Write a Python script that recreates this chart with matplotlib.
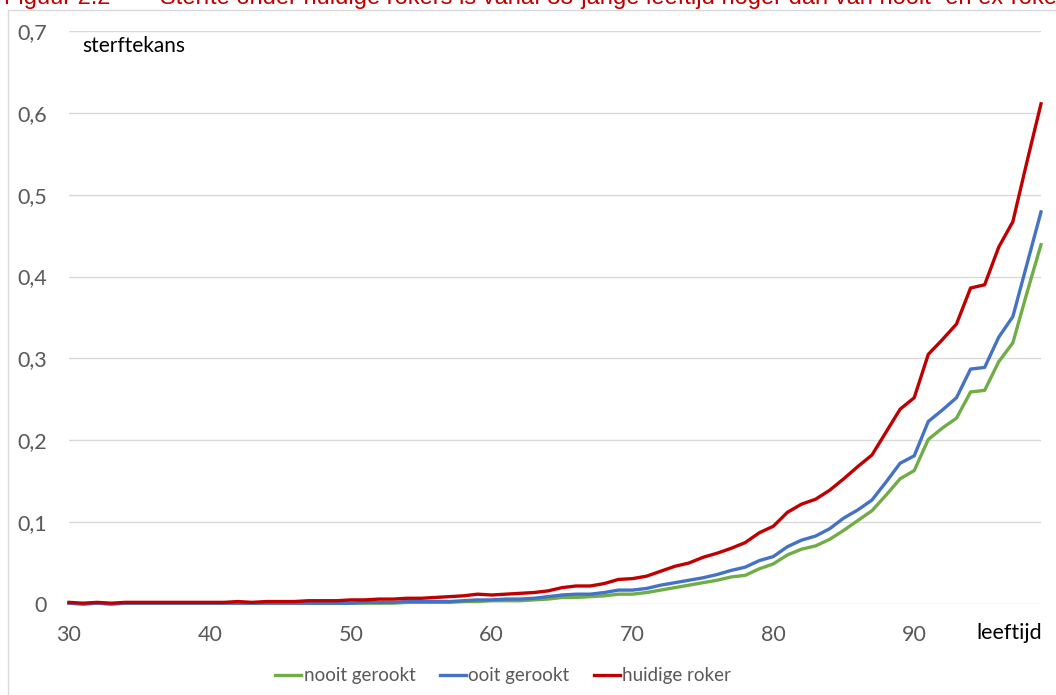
import matplotlib
matplotlib.use("Agg")
import matplotlib.pyplot as plt
from matplotlib.patches import Rectangle

ages = list(range(30, 100))

nooit_gerookt = [
    0.001, 0.000, 0.001, 0.000, 0.001, 0.001, 0.001, 0.001, 0.001, 0.001,  # 30-39
    0.001, 0.001, 0.001, 0.001, 0.001, 0.001, 0.001, 0.001, 0.001, 0.001,  # 40-49
    0.001, 0.001, 0.001, 0.001, 0.002, 0.002, 0.002, 0.002, 0.003, 0.003,  # 50-59
    0.004, 0.004, 0.004, 0.005, 0.006, 0.008, 0.008, 0.009, 0.010, 0.012,  # 60-69
    0.012, 0.014, 0.017, 0.020, 0.023, 0.026, 0.029, 0.033, 0.035, 0.043,  # 70-79
    0.049, 0.060, 0.067, 0.071, 0.079, 0.090, 0.102, 0.114, 0.133, 0.153,  # 80-89
    0.163, 0.201, 0.215, 0.227, 0.259, 0.261, 0.296, 0.319, 0.380, 0.439,  # 90-99
]

ooit_gerookt = [
    0.001, 0.000, 0.001, 0.000, 0.001, 0.001, 0.001, 0.001, 0.001, 0.001,  # 30-39
    0.001, 0.001, 0.001, 0.001, 0.001, 0.001, 0.001, 0.001, 0.001, 0.001,  # 40-49
    0.001, 0.002, 0.002, 0.002, 0.003, 0.003, 0.003, 0.003, 0.004, 0.005,  # 50-59
    0.005, 0.006, 0.006, 0.007, 0.009, 0.011, 0.012, 0.012, 0.014, 0.017,  # 60-69
    0.017, 0.019, 0.023, 0.026, 0.029, 0.032, 0.036, 0.041, 0.045, 0.053,  # 70-79
    0.058, 0.070, 0.078, 0.083, 0.092, 0.105, 0.115, 0.127, 0.149, 0.172,  # 80-89
    0.181, 0.223, 0.237, 0.252, 0.287, 0.289, 0.326, 0.351, 0.415, 0.479,  # 90-99
]

huidige_roker = [
    0.002, 0.001, 0.002, 0.001, 0.002, 0.002, 0.002, 0.002, 0.002, 0.002,  # 30-39
    0.002, 0.002, 0.003, 0.002, 0.003, 0.003, 0.003, 0.004, 0.004, 0.004,  # 40-49
    0.005, 0.005, 0.006, 0.006, 0.007, 0.007, 0.008, 0.009, 0.010, 0.012,  # 50-59
    0.011, 0.012, 0.013, 0.014, 0.016, 0.020, 0.022, 0.022, 0.025, 0.030,  # 60-69
    0.031, 0.034, 0.040, 0.046, 0.050, 0.057, 0.062, 0.068, 0.075, 0.087,  # 70-79
    0.095, 0.112, 0.122, 0.128, 0.139, 0.153, 0.168, 0.182, 0.210, 0.238,  # 80-89
    0.252, 0.305, 0.323, 0.342, 0.386, 0.390, 0.436, 0.467, 0.540, 0.611,  # 90-99
]

series_labels = ["nooit gerookt", "ooit gerookt", "huidige roker"]
x_ticks = [30, 40, 50, 60, 70, 80, 90]
y_ticks = [0, 0.1, 0.2, 0.3, 0.4, 0.5, 0.6, 0.7]
y_tick_labels = ["0", "0,1", "0,2", "0,3", "0,4", "0,5", "0,6", "0,7"]

title_num = "Figuur 2.2"
title_text = ("Sterfte onder huidige rokers is vanaf 35-jarige "
              "leeftijd hoger dan van nooit- en ex-rokers")

colors = ["#70ad47", "#4472c4", "#c00000"]
FONT = ["Lato", "DejaVu Sans"]
GRAY = "#595959"

W, H = 1056, 695
fig = plt.figure(figsize=(W / 100, H / 100), dpi=100)

# chart area border
fig.patches.append(Rectangle((8 / W, -0.1), 1.2, 1.1 - 10 / H,
                             transform=fig.transFigure, fill=False,
                             edgecolor="#d9d9d9", linewidth=1.0, zorder=0))

# red title, partially cut off at top (as in the reference)
TFONT = ["Liberation Sans Narrow", "Liberation Sans"]
fig.text(4 / W, 1 - 4 / H, title_num, color="#c00000", fontsize=17,
         family=TFONT, ha="left", va="baseline")
fig.text(160 / W, 1 - 4 / H, title_text, color="#c00000", fontsize=17,
         family=TFONT, ha="left", va="baseline")

left, right = 69 / W, 1041 / W
bottom, top = (H - 604) / H, (H - 31) / H
ax = fig.add_axes([left, bottom, right - left, top - bottom])

for vals, c, lab in zip([nooit_gerookt, ooit_gerookt, huidige_roker], colors, series_labels):
    ax.plot(ages, vals, color=c, linewidth=2.4, label=lab, solid_joinstyle="round",
            clip_on=False)

ax.set_xlim(30, 99)
ax.set_ylim(0, 0.7)
ax.set_yticks(y_ticks)
ax.set_yticklabels(y_tick_labels)
ax.set_xticks(x_ticks)
ax.set_xticklabels([str(t) for t in x_ticks])
ax.grid(axis="y", color="#d9d9d9", linewidth=1.0)
ax.set_axisbelow(True)
for s in ax.spines.values():
    s.set_visible(False)
ax.tick_params(axis="both", length=0, labelcolor=GRAY, labelsize=15.5)
ax.tick_params(axis="y", pad=16)
ax.tick_params(axis="x", pad=15)
for lbl in ax.get_xticklabels() + ax.get_yticklabels():
    lbl.set_family(FONT)

ax.text(82 / W, 1 - 46 / H, "sterftekans", transform=fig.transFigure,
        fontsize=15, family=FONT, color="black", ha="left", va="center")
ax.text(1042 / W, 1 - 633 / H, "leeftijd", transform=fig.transFigure,
        fontsize=15.5, family=FONT, color="black", ha="right", va="center")

leg = fig.legend(loc="center", bbox_to_anchor=(503 / W, 1 - 676 / H),
                 ncol=3, frameon=False, handlelength=1.4, handletextpad=0.12,
                 columnspacing=1.3, prop={"family": FONT, "size": 13.5})
for t in leg.get_texts():
    t.set_color(GRAY)
for h in leg.get_lines():
    h.set_linewidth(2.4)

fig.savefig("out.png", dpi=100)
